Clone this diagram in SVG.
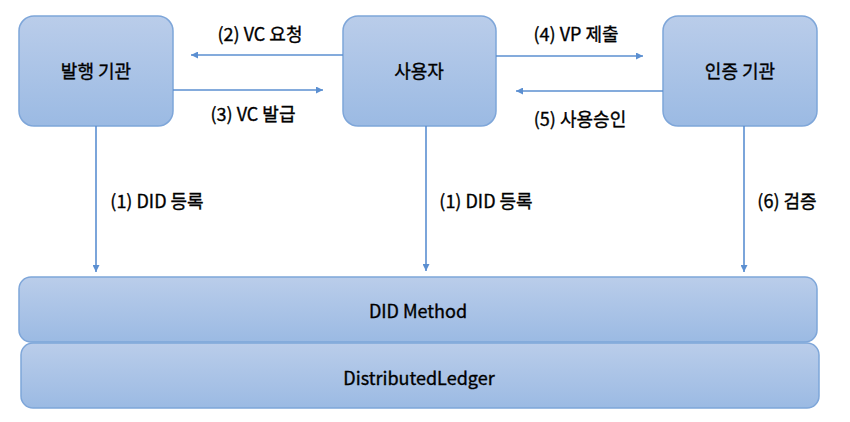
<svg xmlns="http://www.w3.org/2000/svg" width="850" height="422" viewBox="0 0 850 422">
<defs>
<linearGradient id="g" x1="0" y1="0" x2="0" y2="1">
<stop offset="0" stop-color="#bacdea"/>
<stop offset="1" stop-color="#9bbae3"/>
</linearGradient>
<marker id="a" viewBox="0 0 10 10" refX="10" refY="5" markerWidth="9" markerHeight="7" markerUnits="userSpaceOnUse" orient="auto">
<path d="M0,0 L10,5 L0,10 z" fill="#5b8fd1"/>
</marker>
<style>
.box{fill:url(#g);stroke:#7ea6d9;stroke-width:1.5}
.t{font-family:"Noto Sans CJK KR","Liberation Sans",sans-serif;fill:#000;stroke:#000;stroke-width:0.35;text-anchor:middle;dominant-baseline:central}
.n{font-size:18px}
.l{font-size:18px}
.c{stroke:#5b8fd1;stroke-width:1.6;fill:none;marker-end:url(#a)}
</style>
</defs>
<rect width="850" height="422" fill="#fff"/>
<g id="issuer"><rect class="box" x="19" y="16" width="154" height="110" rx="15"/><text class="t n" x="96" y="70">발행 기관</text></g>
<g id="user"><rect class="box" x="343" y="16" width="153" height="110" rx="15"/><text class="t n" x="419" y="70">사용자</text></g>
<g id="verifier"><rect class="box" x="663" y="16" width="154" height="110" rx="15"/><text class="t n" x="740" y="70">인증 기관</text></g>
<g id="didmethod"><rect class="box" x="19" y="277" width="798" height="65" rx="12"/><text class="t n" x="418" y="310">DID Method</text></g>
<g id="ledger"><rect class="box" x="21" y="343" width="798" height="65" rx="12"/><text class="t n" x="419" y="377">DistributedLedger</text></g>
<g id="connectors">
<line class="c" x1="343" y1="55" x2="191" y2="55"/>
<line class="c" x1="173" y1="90" x2="323" y2="90"/>
<line class="c" x1="496" y1="56" x2="643" y2="56"/>
<line class="c" x1="663" y1="91" x2="516" y2="91"/>
<line class="c" x1="96" y1="126" x2="96" y2="272"/>
<line class="c" x1="426" y1="126" x2="426" y2="271"/>
<line class="c" x1="744" y1="126" x2="744" y2="272"/>
<text class="t l" x="260" y="33">(2) VC 요청</text>
<text class="t l" x="253" y="113">(3) VC 발급</text>
<text class="t l" x="576" y="33">(4) VP 제출</text>
<text class="t l" x="580" y="118">(5) 사용승인</text>
<text class="t l" x="157" y="200">(1) DID 등록</text>
<text class="t l" x="486" y="200">(1) DID 등록</text>
<text class="t l" x="787" y="200">(6) 검증</text>
</g>
</svg>
